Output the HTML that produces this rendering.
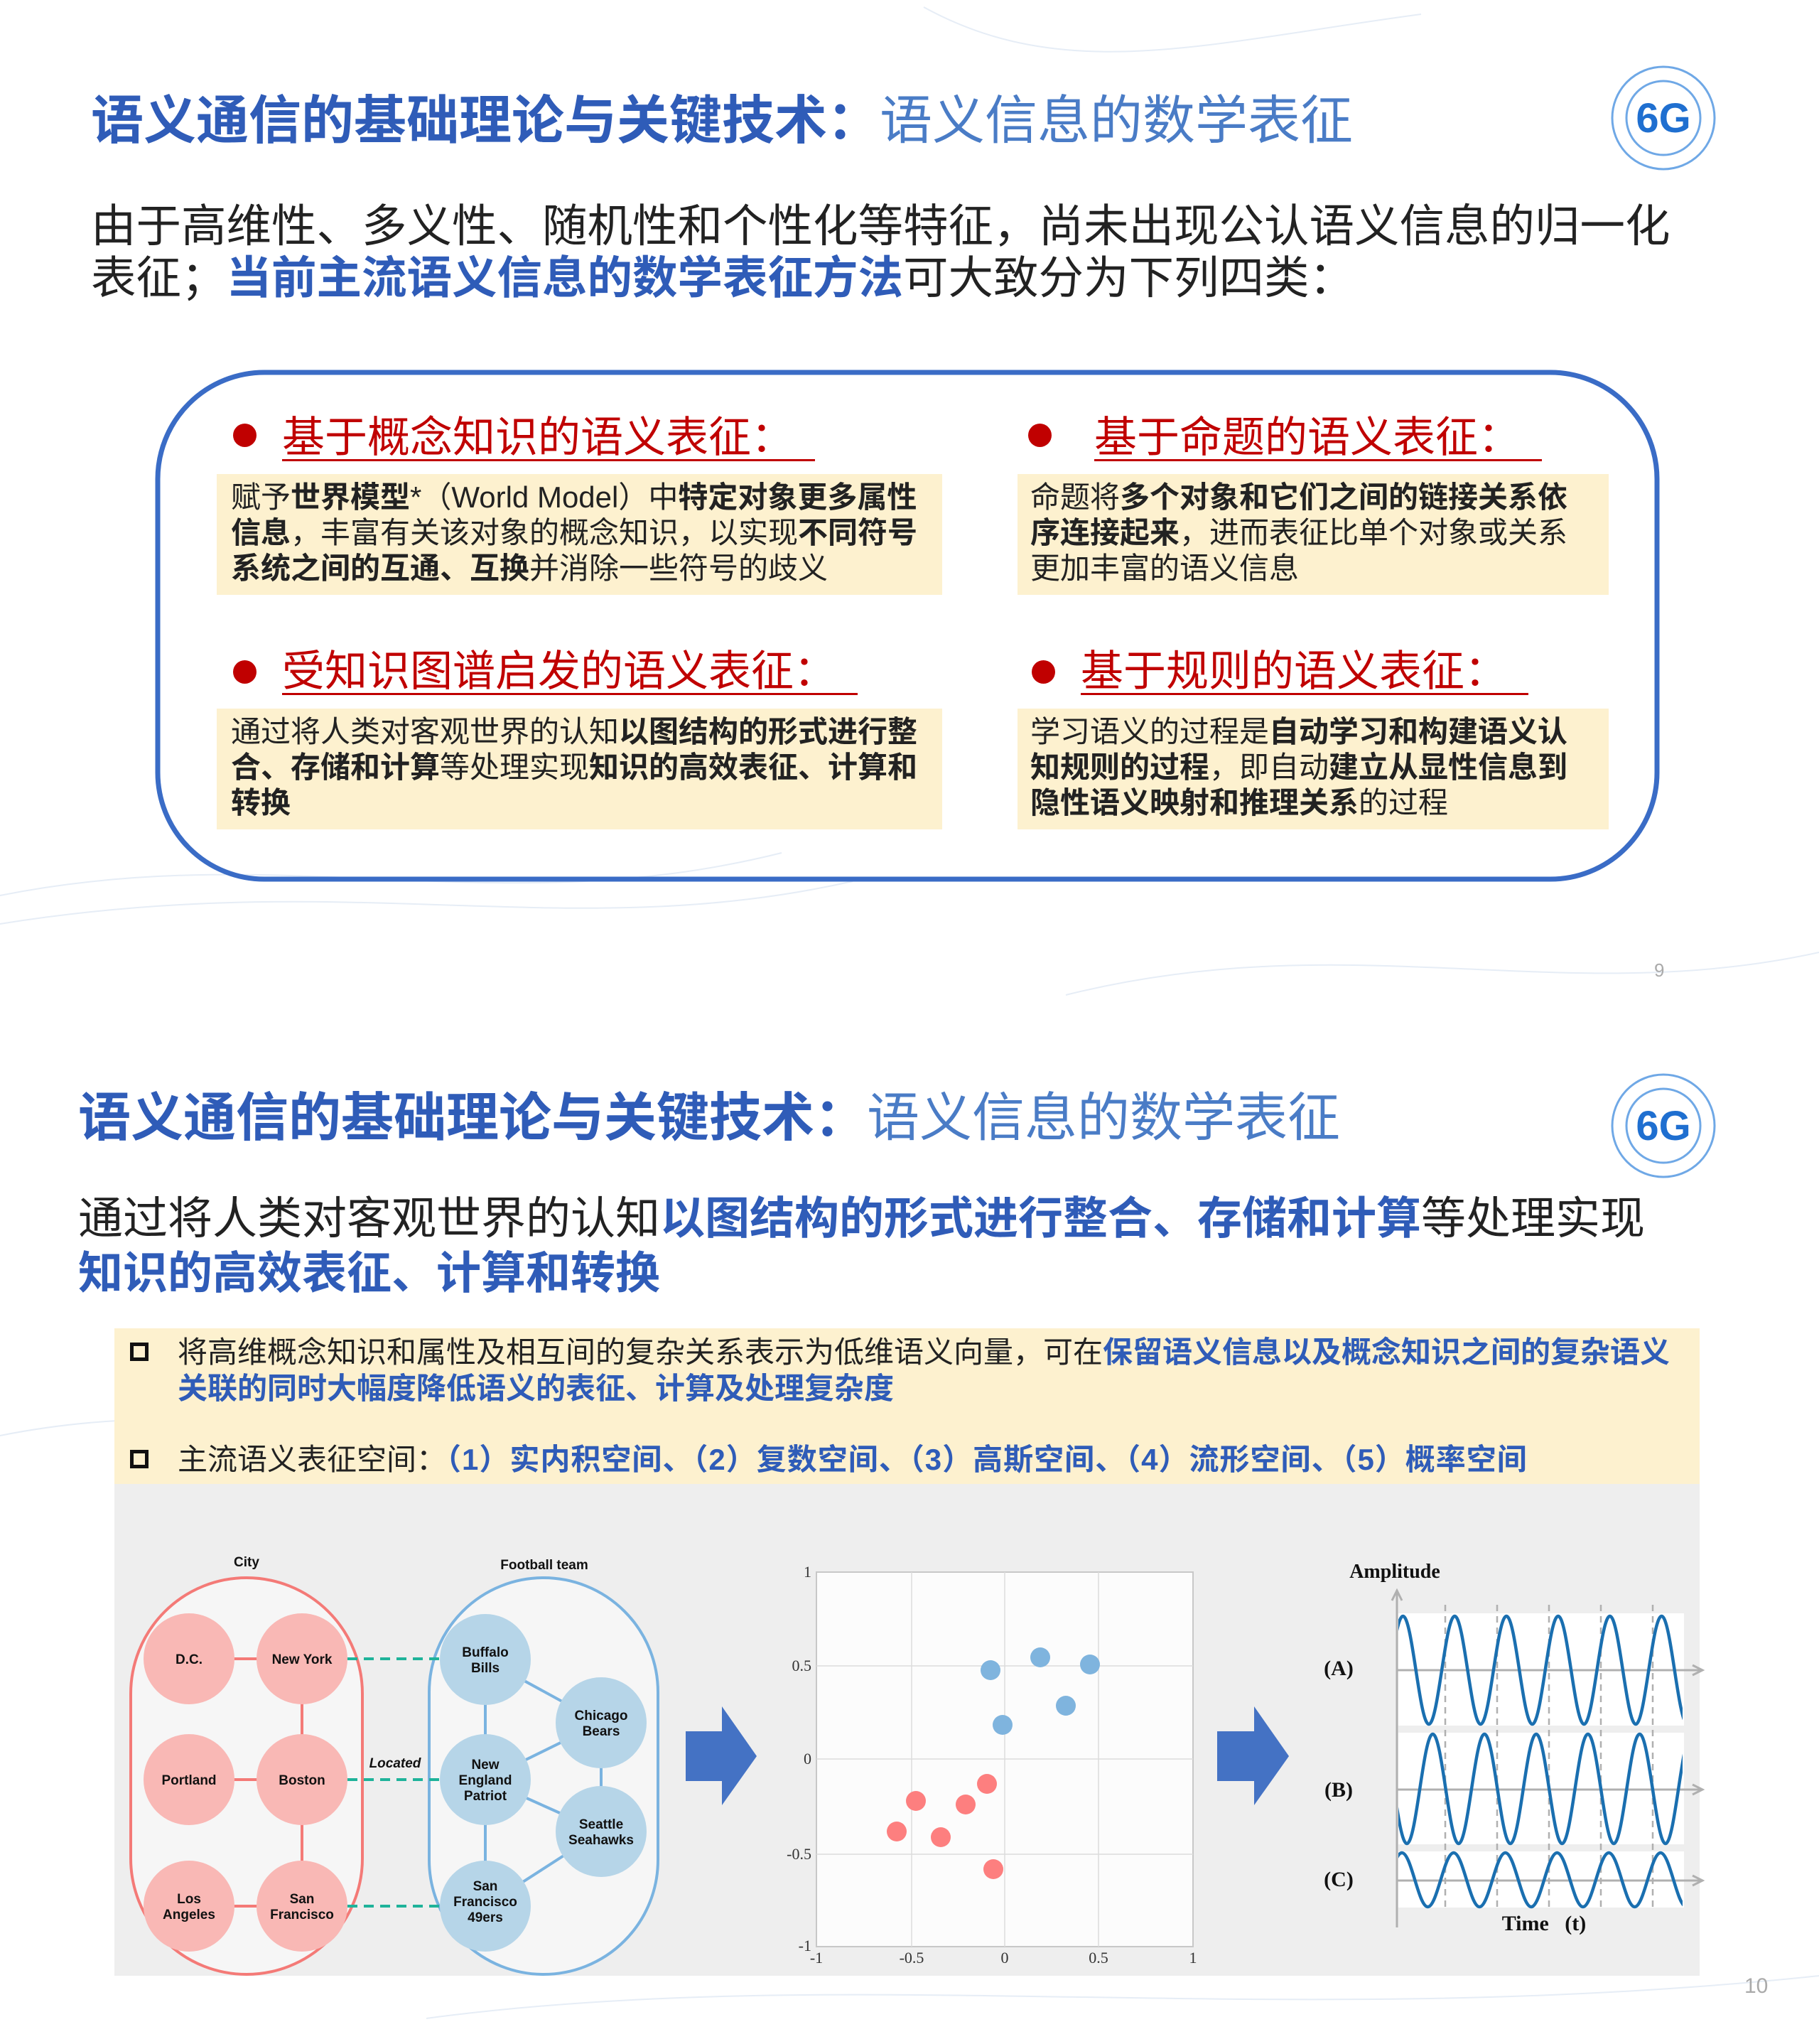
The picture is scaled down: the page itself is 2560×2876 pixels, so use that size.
<!DOCTYPE html>
<html><head><meta charset="utf-8">
<style>
*{margin:0;padding:0;box-sizing:border-box}
body{width:2560px;height:2876px;background:#fff;position:relative;overflow:hidden;font-family:"Liberation Sans","Noto Sans CJK SC",sans-serif;color:#222}
.a{position:absolute;white-space:nowrap}
.t1{font-size:74px;line-height:90px;color:#2f5cb8;font-weight:bold}
.t1 span{font-weight:normal;color:#4a7cc6}
.b{font-weight:bold}
.bl{color:#2f5cb8;font-weight:bold}
.yb{position:absolute;background:#fdf1cf}
.bt{font-size:42px;line-height:50px;color:#222}
.hd{font-size:60px;line-height:60px;color:#c00000;border-bottom:3px solid #c00000;padding-right:30px}
.dot{position:absolute;width:33px;height:33px;border-radius:50%;background:#c00000}
.sq{position:absolute;width:26px;height:26px;border:5px solid #111}
</style></head><body>

<svg class="a" style="left:0;top:0" width="2560" height="2876">
<g fill="none" stroke="#e6edf6" stroke-width="2">
<path d="M0,1260 C400,1180 700,1300 1100,1200"/>
<path d="M0,1300 C500,1220 800,1330 1200,1240"/>
<path d="M1500,1400 C1900,1300 2200,1420 2560,1340"/>
<path d="M1300,10 C1500,120 1700,60 2000,20"/>
<path d="M0,2020 C300,1960 500,2040 700,2000"/>
<path d="M600,2840 C1200,2760 1800,2860 2560,2780"/>
</g>
<rect x="222" y="524" width="2110" height="713" rx="150" fill="none" stroke="#3a6cc6" stroke-width="7"/>
<circle cx="2341" cy="166" r="72" fill="#fff" stroke="#6fa8e6" stroke-width="3"/>
<circle cx="2341" cy="166" r="52" fill="none" stroke="#6fa8e6" stroke-width="3"/>
<text x="2341" y="186" text-anchor="middle" font-family="Liberation Sans" font-weight="bold" font-size="58" fill="#1f6fd0">6G</text>
<circle cx="2341" cy="1584" r="72" fill="#fff" stroke="#6fa8e6" stroke-width="3"/>
<circle cx="2341" cy="1584" r="52" fill="none" stroke="#6fa8e6" stroke-width="3"/>
<text x="2341" y="1604" text-anchor="middle" font-family="Liberation Sans" font-weight="bold" font-size="58" fill="#1f6fd0">6G</text>
<rect x="161" y="1869" width="2231" height="219" fill="#fdf1cf"/>
<rect x="161" y="2088" width="2231" height="692" fill="#eeeeee"/>
<rect x="184" y="2220" width="326" height="558" rx="163" fill="#f6f6f6" stroke="#f47a77" stroke-width="4"/>
<rect x="604" y="2220" width="322" height="558" rx="161" fill="#f6f6f6" stroke="#7ab3e0" stroke-width="4"/>
<g stroke="#f47a77" stroke-width="4">
<line x1="266" y1="2334" x2="425" y2="2334"/><line x1="266" y1="2504" x2="425" y2="2504"/><line x1="266" y1="2682" x2="425" y2="2682"/>
<line x1="425" y1="2334" x2="425" y2="2682"/></g>
<g stroke="#7ab3e0" stroke-width="4">
<line x1="683" y1="2335" x2="683" y2="2682"/><line x1="683" y1="2335" x2="846" y2="2424"/><line x1="683" y1="2504" x2="846" y2="2424"/>
<line x1="683" y1="2504" x2="846" y2="2577"/><line x1="846" y1="2424" x2="846" y2="2577"/><line x1="683" y1="2682" x2="846" y2="2577"/></g>
<g stroke="#1fb39a" stroke-width="4" stroke-dasharray="14,9">
<line x1="489" y1="2334" x2="620" y2="2334"/><line x1="489" y1="2504" x2="620" y2="2504"/><line x1="489" y1="2682" x2="620" y2="2682"/></g>
<g fill="#f9b8b5">
<circle cx="266" cy="2334" r="64"/><circle cx="425" cy="2334" r="64"/>
<circle cx="266" cy="2504" r="64"/><circle cx="425" cy="2504" r="64"/>
<circle cx="266" cy="2682" r="64"/><circle cx="425" cy="2682" r="64"/></g>
<g fill="#b6d5e8">
<circle cx="683" cy="2335" r="64"/><circle cx="846" cy="2424" r="64"/><circle cx="683" cy="2504" r="64"/>
<circle cx="846" cy="2577" r="64"/><circle cx="683" cy="2682" r="64"/></g>
<g font-family="Liberation Sans" font-weight="bold" font-size="19" fill="#111" text-anchor="middle">
<text x="347" y="2204">City</text><text x="766" y="2208">Football team</text>
<text x="266" y="2341">D.C.</text><text x="425" y="2341">New York</text>
<text x="266" y="2511">Portland</text><text x="425" y="2511">Boston</text>
<text x="266" y="2678">Los</text><text x="266" y="2700">Angeles</text>
<text x="425" y="2678">San</text><text x="425" y="2700">Francisco</text>
<text x="683" y="2331">Buffalo</text><text x="683" y="2353">Bills</text>
<text x="846" y="2420">Chicago</text><text x="846" y="2442">Bears</text>
<text x="683" y="2489">New</text><text x="683" y="2511">England</text><text x="683" y="2533">Patriot</text>
<text x="846" y="2573">Seattle</text><text x="846" y="2595">Seahawks</text>
<text x="683" y="2660">San</text><text x="683" y="2682">Francisco</text><text x="683" y="2704">49ers</text>
<text x="556" y="2487" font-style="italic">Located</text>
</g>
<polygon points="965,2436 1016,2436 1016,2401 1065,2471 1016,2540 1016,2506 965,2506" fill="#4472c4"/>
<polygon points="1713,2436 1765,2436 1765,2401 1814,2471 1765,2540 1765,2506 1713,2506" fill="#4472c4"/>
<rect x="1149" y="2212" width="530" height="527" fill="#fcfcfc" stroke="#c8c8c8" stroke-width="2"/>
<g stroke="#dcdcdc" stroke-width="1.5">
<line x1="1283" y1="2212" x2="1283" y2="2739"/><line x1="1414" y1="2212" x2="1414" y2="2739"/><line x1="1546" y1="2212" x2="1546" y2="2739"/>
<line x1="1149" y1="2344" x2="1679" y2="2344"/><line x1="1149" y1="2475" x2="1679" y2="2475"/><line x1="1149" y1="2609" x2="1679" y2="2609"/></g>
<g fill="#7fb4de"><circle cx="1394" cy="2350" r="14"/><circle cx="1464" cy="2332" r="14"/><circle cx="1534" cy="2342" r="14"/><circle cx="1500" cy="2400" r="14"/><circle cx="1411" cy="2427" r="14"/></g>
<g fill="#fd7f7f"><circle cx="1389" cy="2510" r="14"/><circle cx="1289" cy="2534" r="14"/><circle cx="1359" cy="2539" r="14"/><circle cx="1262" cy="2577" r="14"/><circle cx="1324" cy="2585" r="14"/><circle cx="1398" cy="2630" r="14"/></g>
<g font-family="Liberation Serif" font-size="22" fill="#333">
<g text-anchor="end"><text x="1142" y="2219">1</text><text x="1142" y="2351">0.5</text><text x="1142" y="2482">0</text><text x="1142" y="2616">-0.5</text><text x="1142" y="2745">-1</text></g>
<g text-anchor="middle"><text x="1149" y="2762">-1</text><text x="1283" y="2762">-0.5</text><text x="1414" y="2762">0</text><text x="1546" y="2762">0.5</text><text x="1679" y="2762">1</text></g>
</g>
<rect x="1968" y="2270" width="402" height="158" fill="#fff"/>
<rect x="1968" y="2438" width="402" height="157" fill="#fff"/>
<rect x="1968" y="2605" width="402" height="79" fill="#fff"/>
<g stroke="#b0b0b0" stroke-width="2.5" stroke-dasharray="9,7">
<line x1="2034" y1="2258" x2="2034" y2="2690"/><line x1="2107" y1="2258" x2="2107" y2="2690"/><line x1="2180" y1="2258" x2="2180" y2="2690"/><line x1="2253" y1="2258" x2="2253" y2="2690"/><line x1="2326" y1="2258" x2="2326" y2="2690"/></g>
<g stroke="#b0b0b0" stroke-width="3" fill="none">
<line x1="1966" y1="2240" x2="1966" y2="2712"/><polyline points="1959,2252 1966,2238 1973,2252"/>
<line x1="1966" y1="2350" x2="2394" y2="2350"/><polyline points="2382,2343 2396,2350 2382,2357"/>
<line x1="1966" y1="2518" x2="2394" y2="2518"/><polyline points="2382,2511 2396,2518 2382,2525"/>
<line x1="1966" y1="2646" x2="2394" y2="2646"/><polyline points="2382,2639 2396,2646 2382,2653"/>
</g>
<clipPath id="wc"><rect x="1968" y="2250" width="400" height="450"/></clipPath>
<g clip-path="url(#wc)" fill="none" stroke="#1a6fb0" stroke-width="4.5">
<path d="M1938.1,2426 C1951.4,2426 1961.2,2274 1974.5,2274 S1997.6,2426 2010.9,2426 S2034.0,2274 2047.3,2274 S2070.4,2426 2083.7,2426 S2106.8,2274 2120.1,2274 S2143.2,2426 2156.5,2426 S2179.6,2274 2192.9,2274 S2216.0,2426 2229.3,2426 S2252.4,2274 2265.7,2274 S2288.8,2426 2302.1,2426 S2325.2,2274 2338.5,2274 S2361.6,2426 2374.9,2426"/>
<path d="M1943.6,2440 C1956.9,2440 1966.7,2594 1980,2594 S2003.1,2440 2016.4,2440 S2039.5,2594 2052.8,2594 S2075.9,2440 2089.2,2440 S2112.3,2594 2125.6,2594 S2148.7,2440 2162,2440 S2185.1,2594 2198.4,2594 S2221.5,2440 2234.8,2440 S2257.9,2594 2271.2,2594 S2294.3,2440 2307.6,2440 S2330.7,2594 2344,2594 S2367.1,2440 2380.4,2440"/>
<path d="M1936.6,2683 C1949.9,2683 1959.7,2607 1973,2607 S1996.1,2683 2009.4,2683 S2032.5,2607 2045.8,2607 S2068.9,2683 2082.2,2683 S2105.3,2607 2118.6,2607 S2141.7,2683 2155,2683 S2178.1,2607 2191.4,2607 S2214.5,2683 2227.8,2683 S2250.9,2607 2264.2,2607 S2287.3,2683 2300.6,2683 S2323.7,2607 2337,2607 S2360.1,2683 2373.4,2683"/>
</g>
<g font-family="Liberation Serif" font-weight="bold" fill="#111">
<text x="1963" y="2220" font-size="28" text-anchor="middle">Amplitude</text>
<text x="1884" y="2357" font-size="30" text-anchor="middle">(A)</text>
<text x="1884" y="2528" font-size="30" text-anchor="middle">(B)</text>
<text x="1884" y="2654" font-size="30" text-anchor="middle">(C)</text>
<text x="2173" y="2716" font-size="30" text-anchor="middle" xml:space="preserve">Time   (t)</text>
</g>
</svg>

<div class="a t1" style="left:128px;top:125px">语义通信的基础理论与关键技术：<span>语义信息的数学表征</span></div>
<div class="a" style="left:128px;top:283px;font-size:63.5px;line-height:73px;color:#222">由于高维性、多义性、随机性和个性化等特征，尚未出现公认语义信息的归一化<br>表征；<span class="bl">当前主流语义信息的数学表征方法</span>可大致分为下列四类：</div>

<div class="dot" style="left:328px;top:596px"></div>
<div class="a hd" style="left:397px;top:586px">基于概念知识的语义表征：</div>
<div class="dot" style="left:1447px;top:596px"></div>
<div class="a hd" style="left:1540px;top:586px">基于命题的语义表征：</div>
<div class="dot" style="left:328px;top:929px"></div>
<div class="a hd" style="left:397px;top:915px">受知识图谱启发的语义表征：</div>
<div class="dot" style="left:1452px;top:929px"></div>
<div class="a hd" style="left:1521px;top:915px">基于规则的语义表征：</div>

<div class="yb" style="left:305px;top:667px;width:1021px;height:170px"></div>
<div class="yb" style="left:1432px;top:667px;width:832px;height:170px"></div>
<div class="yb" style="left:305px;top:997px;width:1021px;height:170px"></div>
<div class="yb" style="left:1432px;top:997px;width:832px;height:170px"></div>
<div class="a bt" style="left:325px;top:675px">赋予<b>世界模型</b>*（World Model）中<b>特定对象更多属性</b><br><b>信息</b>，丰富有关该对象的概念知识，以实现<b>不同符号</b><br><b>系统之间的互通、互换</b>并消除一些符号的歧义</div>
<div class="a bt" style="left:1450px;top:675px">命题将<b>多个对象和它们之间的链接关系依</b><br><b>序连接起来</b>，进而表征比单个对象或关系<br>更加丰富的语义信息</div>
<div class="a bt" style="left:325px;top:1005px">通过将人类对客观世界的认知<b>以图结构的形式进行整</b><br><b>合、存储和计算</b>等处理实现<b>知识的高效表征、计算和</b><br><b>转换</b></div>
<div class="a bt" style="left:1450px;top:1005px">学习语义的过程是<b>自动学习和构建语义认</b><br><b>知规则的过程</b>，即自动<b>建立从显性信息到</b><br><b>隐性语义映射和推理关系</b>的过程</div>
<div class="a" style="left:2328px;top:1350px;font-size:26px;color:#aaa">9</div>

<div class="a t1" style="left:110px;top:1528px">语义通信的基础理论与关键技术：<span>语义信息的数学表征</span></div>
<div class="a" style="left:110px;top:1677px;font-size:63px;line-height:77px;color:#222">通过将人类对客观世界的认知<span class="bl">以图结构的形式进行整合、存储和计算</span>等处理实现<br><span class="bl">知识的高效表征、计算和转换</span></div>
<div class="sq" style="left:183px;top:1889px"></div>
<div class="a" style="left:250px;top:1877px;font-size:42px;line-height:51px;color:#222">将高维概念知识和属性及相互间的复杂关系表示为低维语义向量，可在<span class="bl">保留语义信息以及概念知识之间的复杂语义</span><br><span class="bl">关联的同时大幅度降低语义的表征、计算及处理复杂度</span></div>
<div class="sq" style="left:183px;top:2040px"></div>
<div class="a" style="left:250px;top:2028px;font-size:42px;line-height:51px;color:#222">主流语义表征空间：<span class="bl" style="letter-spacing:1px">（1）实内积空间、（2）复数空间、（3）高斯空间、（4）流形空间、（5）概率空间</span></div>
<div class="a" style="left:2455px;top:2778px;font-size:30px;color:#aaa">10</div>
</body></html>
